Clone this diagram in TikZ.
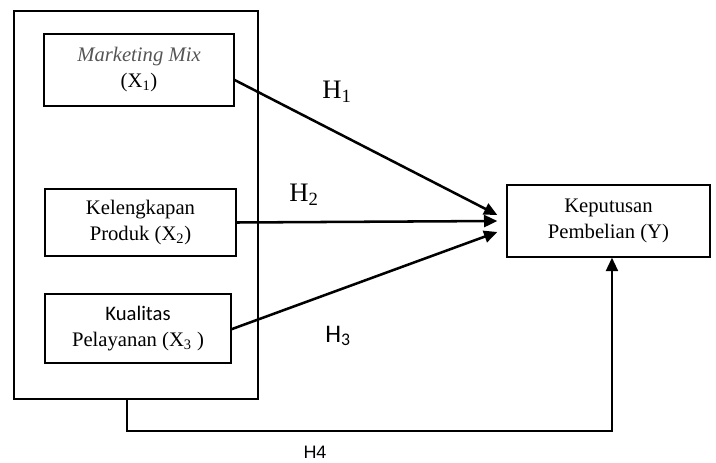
\documentclass[tikz,border=0pt]{standalone}
\usepackage{fontspec}
\setmainfont{Liberation Serif}
\newfontfamily\calibri{Carlito}
\newfontfamily\arial{Liberation Sans}
\usetikzlibrary{arrows.meta,positioning,calc}

\begin{document}
\begin{tikzpicture}[x=0.75pt,y=-0.75pt,>={Triangle[length=10pt,width=9pt]}]
    \tikzstyle{box}=[rectangle,draw,line width=1pt,align=center,inner sep=0pt,font=\fontsize{15.5}{19.5}\selectfont]
    \tikzstyle{hyp}=[font=\fontsize{20}{22}\selectfont,inner sep=0pt]
    \tikzstyle{link}=[->,line width=1.9pt]
    \useasboundingbox (0,0) rectangle (716,463);
    % variables
    \node[draw,line width=1.4pt,minimum width=183pt,minimum height=291pt] (frame) at (136,205) {};
    \node[box,minimum width=142.5pt,minimum height=54pt] (mix) at (139,70) {{\color[HTML]{555555}\itshape Marketing Mix}\\(X\textsubscript{1})};
    \node[box,minimum width=143.25pt,minimum height=50.25pt] (produk) at (140.5,222.5) {Kelengkapan\\Produk (X\textsubscript{2})};
    \node[box,minimum width=139.5pt,minimum height=51.75pt] (layanan) at (138,328.5) {{\calibri Kualitas}\\Pelayanan (X\textsubscript{3} )};
    \node[box,minimum width=152.25pt,minimum height=54pt] (beli) at (608.5,221) {Keputusan\\Pembelian (Y)};
    % hypotheses
    \node[hyp] (h1) at (337,92) {H\textsubscript{1}};
    \node[hyp] (h2) at (304,195) {H\textsubscript{2}};
    \node[hyp,font=\calibri\fontsize{19}{21}\selectfont] (h3) at (338,336) {H\textsubscript{3}};
    \node[hyp,font=\arial\fontsize{13.5}{15}\selectfont] (h4) at (315,452) {H4};
    \draw[link] ([yshift=-7.5pt]mix.east) -- ([xshift=-6.75pt,yshift=4.5pt]beli.west);
    \draw[link] (produk.east) -- ([xshift=-6.75pt]beli.west);
    \draw[link] ([yshift=-0.5pt]layanan.east) -- ([xshift=-6.75pt,yshift=-8.25pt]beli.west);
    \draw[->,line width=1.4pt] ([xshift=-6.75pt]frame.south) -- ++(0,31) -| ([xshift=2.6pt]beli.south);
\end{tikzpicture}
\end{document}
